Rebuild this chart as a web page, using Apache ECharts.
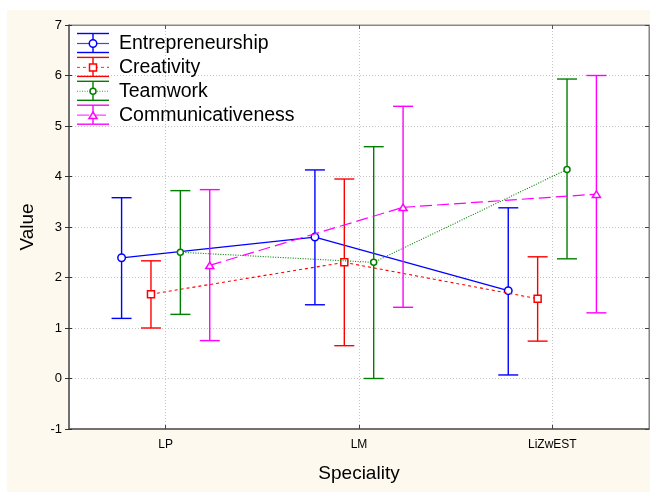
<!DOCTYPE html>
<html>
<head>
<meta charset="utf-8">
<script src="https://cdn.jsdelivr.net/npm/echarts@6/dist/echarts.min.js"></script>
<style>
  html, body { margin: 0; padding: 0; background: #ffffff; }
  #chart { width: 650px; height: 492px; }
</style>
</head>
<body>
<div id="chart"></div>
<script>
// Specialities along the horizontal axis
const categories = ['LP', 'LM', 'LiZwEST'];
const seriesNames = ['Entrepreneurship', 'Creativity', 'Teamwork', 'Communicativeness'];

// Means with lower / upper interval limits per speciality
const entrepreneurshipMean = [2.39, 2.80, 1.74];
const entrepreneurshipLow  = [1.19, 1.46, 0.07];
const entrepreneurshipHigh = [3.58, 4.13, 3.38];

const creativityMean = [1.67, 2.30, 1.58];
const creativityLow  = [1.00, 0.65, 0.74];
const creativityHigh = [2.33, 3.95, 2.41];

const teamworkMean = [2.50, 2.30, 4.14];
const teamworkLow  = [1.27, 0.00, 2.37];
const teamworkHigh = [3.72, 4.59, 5.93];

const communicativenessMean = [2.24, 3.39, 3.65];
const communicativenessLow  = [0.75, 1.41, 1.30];
const communicativenessHigh = [3.74, 5.39, 6.00];

const yMin = -1, yMax = 7, yStep = 1;

const allMeans = [entrepreneurshipMean, creativityMean, teamworkMean, communicativenessMean];
const allLows  = [entrepreneurshipLow, creativityLow, teamworkLow, communicativenessLow];
const allHighs = [entrepreneurshipHigh, creativityHigh, teamworkHigh, communicativenessHigh];

// Drawing styles: colour, line dash, marker, horizontal shift within a category band
const FONT = '"Liberation Sans", Arial, Helvetica, sans-serif';
const looks = [
  { color: '#0000ff', dash: null,     marker: 'circle',   size: 7.5, shift: -0.228, width: 1.2 },
  { color: '#ff0000', dash: [3, 3],   marker: 'square',   size: 7,   shift: -0.076, width: 1.1 },
  { color: '#008000', dash: [1, 1.5], marker: 'circle',   size: 6,   shift:  0.076, width: 1.1 },
  { color: '#ff00ff', dash: [12, 5],  marker: 'triangle', size: 8,   shift:  0.228, width: 1.2 }
];
const CAP = 10;

function markerShape(kind, x, y, size, color) {
  const st = { fill: '#ffffff', stroke: color, lineWidth: 1.5 };
  if (kind === 'circle') {
    return { type: 'circle', shape: { cx: x, cy: y, r: size / 2 }, style: st };
  }
  if (kind === 'square') {
    return { type: 'rect', shape: { x: x - size / 2, y: y - size / 2, width: size, height: size }, style: st };
  }
  const h = size * 0.8;
  return { type: 'polygon', shape: { points: [[x, y - h / 2], [x + size / 2, y + h / 2], [x - size / 2, y + h / 2]] }, style: st };
}

function makeRenderer(s) {
  const look = looks[s];
  return function (params, api) {
    const i = api.value(0);
    const band = api.size([1, 0])[0];
    const dx = look.shift * band;
    const p  = api.coord([i, api.value(1)]);
    const lo = api.coord([i, api.value(2)]);
    const hi = api.coord([i, api.value(3)]);
    const x = p[0] + dx;
    const children = [];
    const barStyle = { stroke: look.color, lineWidth: 1.4 };
    children.push({ type: 'line', shape: { x1: x, y1: hi[1], x2: x, y2: lo[1] }, style: barStyle });
    children.push({ type: 'line', shape: { x1: x - CAP, y1: hi[1], x2: x + CAP, y2: hi[1] }, style: barStyle });
    children.push({ type: 'line', shape: { x1: x - CAP, y1: lo[1], x2: x + CAP, y2: lo[1] }, style: barStyle });
    const means = allMeans[s];
    if (i < means.length - 1) {
      const q = api.coord([i + 1, means[i + 1]]);
      children.push({
        type: 'line',
        shape: { x1: x, y1: p[1], x2: q[0] + dx, y2: q[1] },
        style: { stroke: look.color, lineWidth: look.width, lineDash: look.dash || null }
      });
    }
    children.push(markerShape(look.marker, x, p[1], look.size, look.color));
    return { type: 'group', children: children };
  };
}

const series = seriesNames.map(function (name, s) {
  return {
    type: 'custom',
    name: name,
    xAxisIndex: 0,
    yAxisIndex: 0,
    renderItem: makeRenderer(s),
    encode: { x: 0, y: [1, 2, 3] },
    data: categories.map(function (c, i) { return [i, allMeans[s][i], allLows[s][i], allHighs[s][i]]; }),
    z: 3 + s
  };
});

// Hand-drawn legend: error-bar glyph plus label per series
const legendGraphics = [];
seriesNames.forEach(function (name, k) {
  const look = looks[k];
  const cy = 43.5 + k * 23.9;
  const x0 = 77, x1 = 109, xm = 93;
  const st = { stroke: look.color, lineWidth: 1.4 };
  legendGraphics.push({ type: 'line', shape: { x1: x0, y1: cy - 10, x2: x1, y2: cy - 10 }, style: st, z: 100 });
  legendGraphics.push({ type: 'line', shape: { x1: x0, y1: cy + 9, x2: x1, y2: cy + 9 }, style: st, z: 100 });
  legendGraphics.push({ type: 'line', shape: { x1: xm, y1: cy - 10, x2: xm, y2: cy + 9 }, style: st, z: 100 });
  legendGraphics.push({ type: 'line', shape: { x1: x0, y1: cy, x2: x1, y2: cy },
    style: { stroke: look.color, lineWidth: look.width, lineDash: look.dash || null, opacity: 0.75 }, z: 100 });
  const m = markerShape(look.marker, xm, cy, look.size, look.color);
  m.z = 101;
  legendGraphics.push(m);
  legendGraphics.push({ type: 'text', x: 119, y: cy, z: 101,
    style: { text: name, fill: '#000', font: '19.5px ' + FONT, verticalAlign: 'middle', align: 'left' } });
});

const gridLine = { show: true, lineStyle: { color: '#c4c4c4', width: 1, type: [1, 2] } };

const option = {
  animation: false,
  backgroundColor: '#ffffff',
  graphic: [
    { type: 'rect', shape: { x: 7, y: 10, width: 643, height: 482 }, style: { fill: '#fdf9ee' }, z: -10, silent: true }
  ].concat(legendGraphics),
  grid: {
    left: 69, top: 25, width: 580, height: 404,
    show: true, backgroundColor: '#ffffff', borderColor: '#8a8a8a', borderWidth: 1,
    outerBoundsMode: 'none'
  },
  xAxis: [
    {
      type: 'category', data: categories, position: 'bottom', boundaryGap: true,
      name: 'Speciality', nameLocation: 'middle', nameGap: 35,
      nameTextStyle: { fontSize: 19, fontFamily: FONT, color: '#000' },
      axisLine: { show: true, onZero: false, lineStyle: { color: '#555', width: 1.5 } },
      axisTick: { show: true, alignWithLabel: true, inside: true, length: 4, lineStyle: { color: '#444' } },
      axisLabel: { fontSize: 12, fontFamily: FONT, color: '#000', margin: 10 },
      splitLine: Object.assign({ alignWithLabel: true }, gridLine)
    },
    {
      type: 'category', data: categories, position: 'top', boundaryGap: true,
      axisLine: { show: true, onZero: false, lineStyle: { color: '#888', width: 1.2 } },
      axisTick: { show: true, alignWithLabel: true, inside: true, length: 4, lineStyle: { color: '#555' } },
      axisLabel: { show: false },
      splitLine: { show: false }
    }
  ],
  yAxis: [
    {
      type: 'value', min: yMin, max: yMax, interval: yStep, position: 'left',
      name: 'Value', nameLocation: 'middle', nameGap: 32,
      nameTextStyle: { fontSize: 19, fontFamily: FONT, color: '#000' },
      axisLine: { show: true, onZero: false, lineStyle: { color: '#555', width: 1.5 } },
      axisTick: { show: true, inside: false, length: 4, lineStyle: { color: '#333' } },
      axisLabel: { fontSize: 13, fontFamily: FONT, color: '#000', margin: 7 },
      splitLine: gridLine
    },
    {
      type: 'value', min: yMin, max: yMax, interval: yStep, position: 'left',
      axisLine: { show: false, onZero: false },
      axisTick: { show: true, inside: true, length: 3, lineStyle: { color: '#333' } },
      axisLabel: { show: false }, splitLine: { show: false }
    },
    {
      type: 'value', min: yMin, max: yMax, interval: yStep, position: 'right',
      axisLine: { show: true, onZero: false, lineStyle: { color: '#888', width: 1.2 } },
      axisTick: { show: true, inside: true, length: 4, lineStyle: { color: '#444' } },
      axisLabel: { show: false }, splitLine: { show: false }
    }
  ],
  series: series
};

const chart = echarts.init(document.getElementById('chart'), null, { renderer: 'canvas' });
chart.setOption(option);
</script>
</body>
</html>
